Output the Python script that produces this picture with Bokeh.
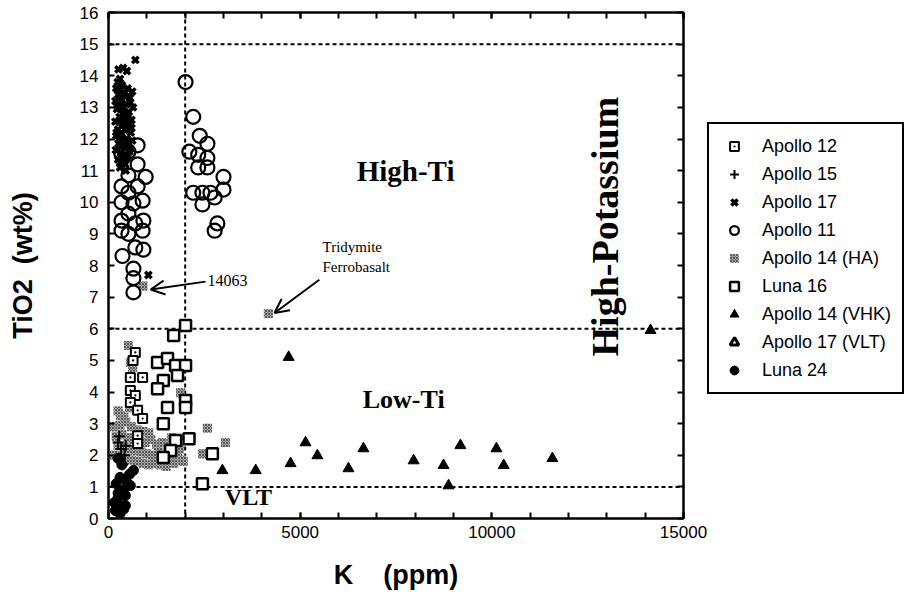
import math
from bokeh.plotting import figure
from bokeh.layouts import row
from bokeh.models import (Range1d, FixedTicker, LinearAxis, Span, Label, Arrow,
                          OpenHead, Legend, LegendItem)
from bokeh.embed import file_html
from bokeh.resources import INLINE

# ---------------- data (K ppm, TiO2 wt%) ----------------
a12_k = [700, 890, 570, 570, 700, 570, 760, 890, 760, 760, 640]
a12_ti = [5.25, 4.46, 4.46, 4.05, 3.89, 3.67, 3.42, 3.16, 2.62, 2.37, 5.0]

a15_k = [250, 330, 300, 420, 360, 280, 450]
a15_ti = [2.4, 2.2, 1.9, 2.0, 1.7, 2.6, 2.3]

a17_k = [700, 260, 380, 480, 300, 200, 350, 500, 620, 250, 420, 560, 180, 330, 470,
         640, 220, 380, 530, 290, 450, 600, 180, 360, 520, 250, 420, 580, 200, 340,
         480, 620, 260, 420, 560, 190, 330, 470, 250, 400, 300, 440, 1040,
         280, 430, 570, 230, 370, 510, 300, 460, 600, 210, 350, 490, 270, 410, 550,
         330, 480, 240, 390, 530, 310, 450]
a17_ti = [14.5, 14.2, 14.25, 14.15, 13.9, 13.6, 13.7, 13.6, 13.5, 13.4, 13.45, 13.3,
          13.2, 13.2, 13.1, 13.0, 12.95, 12.9, 12.85, 12.7, 12.7, 12.6, 12.55, 12.5,
          12.45, 12.3, 12.3, 12.2, 12.1, 12.05, 12.0, 11.95, 11.85, 11.8, 11.7, 11.65,
          11.55, 11.5, 11.35, 11.3, 11.1, 11.2, 7.7,
          13.55, 13.35, 13.15, 13.05, 12.8, 12.75, 12.6, 12.4, 12.35, 12.2, 12.15,
          11.9, 12.0, 11.75, 11.6, 11.45, 11.4, 13.8, 13.0, 12.55, 11.25, 11.0]

a11_k = [2010, 2210, 2380, 2580, 2110, 2340, 2580, 2340, 2580, 3000, 3000, 2210, 2450,
         2660, 2770, 2450, 2840, 2770,
         760, 520, 340, 760, 970, 520, 340, 760, 520, 890, 340, 650, 520, 340, 910, 700,
         340, 890, 520, 910, 365, 700, 650, 650, 650]
a11_ti = [13.8, 12.7, 12.1, 11.85, 11.6, 11.5, 11.4, 11.1, 11.1, 10.8, 10.4, 10.3, 10.3,
          10.3, 10.15, 9.93, 9.33, 9.1,
          11.8, 11.6, 11.5, 11.2, 10.8, 10.85, 10.5, 10.5, 10.3, 10.05, 10.0, 9.96, 9.64,
          9.42, 9.42, 9.33, 9.1, 9.1, 9.0, 8.5, 8.3, 8.57, 7.9, 7.6, 7.15]

a14ha_k = [4170, 900, 520, 570, 630, 1880, 310, 2580, 3050, 2450, 1800,
           150, 300, 450, 600, 750, 900, 1050, 200, 350, 500, 650, 800, 950, 1100, 1250,
           250, 400, 550, 700, 850, 1000, 1150, 1300, 1450, 1600, 1750, 1900, 300, 450,
           600, 750, 900, 1050, 1200, 1350, 1500, 1700, 1950, 150, 1400, 1550, 1650, 1850,
           400, 250, 550]
a14ha_ti = [6.48, 7.35, 5.47, 4.93, 4.78, 3.98, 3.26, 2.85, 2.4, 2.05, 1.93,
            2.9, 2.95, 3.05, 2.9, 2.8, 2.75, 2.7, 2.6, 2.65, 2.55, 2.5, 2.45, 2.4, 2.5, 2.35,
            2.3, 2.25, 2.2, 2.15, 2.1, 2.05, 2.0, 2.1, 2.0, 1.9, 2.1, 1.85, 1.95, 1.9,
            1.85, 1.8, 1.75, 1.7, 1.75, 1.7, 1.65, 1.75, 1.8, 2.0, 2.4, 2.3, 2.55, 2.2,
            3.2, 3.4, 3.5]

l16_k = [2010, 1700, 1280, 1540, 1750, 2010, 1800, 1430, 1280, 2010, 1540, 2010, 1430,
         1750, 2100, 1620, 1430, 2710, 2450]
l16_ti = [6.1, 5.79, 4.93, 5.06, 4.84, 4.84, 4.52, 4.36, 4.1, 3.73, 3.51, 3.51, 3.0,
          2.47, 2.52, 2.15, 1.93, 2.05, 1.1]

a14vhk_k = [4700, 2970, 3840, 4750, 5140, 5450, 6260, 6650, 7960, 8740, 9180, 10120,
            10310, 11580, 14140, 8870]
a14vhk_ti = [5.1, 1.52, 1.52, 1.74, 2.4, 1.99, 1.58, 2.21, 1.83, 1.68, 2.31, 2.21,
             1.68, 1.9, 5.95, 1.04]

a17vlt_k = [250, 350, 300, 200]
a17vlt_ti = [0.5, 0.35, 0.7, 0.6]

l24_k = [650, 570, 440, 440, 300, 200, 350, 250, 150, 400, 300, 180, 450, 550, 250, 380]
l24_ti = [1.52, 1.04, 0.73, 0.41, 1.3, 1.1, 1.7, 0.8, 0.5, 0.3, 0.15, 0.25, 1.2, 1.4,
          1.9, 0.9]

series_names = ["Apollo 12", "Apollo 15", "Apollo 17", "Apollo 11", "Apollo 14 (HA)",
                "Luna 16", "Apollo 14 (VHK)", "Apollo 17 (VLT)", "Luna 24"]

# boundary lines
k_boundary = [2000]
ti_boundaries = [15, 6, 1]

x_ticks = [0, 5000, 10000, 15000]
x_minor = list(range(0, 15001, 1000))
y_ticks = list(range(0, 17))

SANS = "Liberation Sans"
SERIF = "Liberation Serif"

STYLES = {
    "Apollo 14 (HA)": dict(marker="square", size=9, fill_color="#b0b0b0", line_color=None,
                           hatch_pattern="diagonal_cross", hatch_color="#555555",
                           hatch_scale=3, hatch_weight=1),
    "Apollo 12": dict(marker="square_dot", size=9, fill_color="white", line_color="black",
                      line_width=2),
    "Luna 16": dict(marker="square", size=11, fill_color="white", line_color="black",
                    line_width=2.5),
    "Apollo 11": dict(marker="circle", size=14, fill_color=None, line_color="black",
                      line_width=2.2),
    "Apollo 17": dict(marker="x", size=9, line_color="black", line_width=3.5),
    "Apollo 15": dict(marker="cross", size=11, line_color="black", line_width=2),
    "Apollo 14 (VHK)": dict(marker="triangle", size=11, fill_color="black",
                            line_color="black"),
    "Apollo 17 (VLT)": dict(marker="triangle", size=10, fill_color="white",
                            line_color="black", line_width=3),
    "Luna 24": dict(marker="circle", size=10, fill_color="black", line_color="black"),
}
DATA = {
    "Apollo 14 (HA)": (a14ha_k, a14ha_ti),
    "Apollo 12": (a12_k, a12_ti),
    "Luna 16": (l16_k, l16_ti),
    "Apollo 11": (a11_k, a11_ti),
    "Apollo 17": (a17_k, a17_ti),
    "Apollo 15": (a15_k, a15_ti),
    "Apollo 14 (VHK)": (a14vhk_k, a14vhk_ti),
    "Apollo 17 (VLT)": (a17vlt_k, a17vlt_ti),
    "Luna 24": (l24_k, l24_ti),
}

p = figure(frame_width=575, frame_height=506,
           x_range=Range1d(0, 15000), y_range=Range1d(0, 16),
           output_backend="svg", toolbar_location=None,
           min_border_left=108, min_border_top=12, min_border_right=24,
           min_border_bottom=0, background_fill_color="white",
           border_fill_color="white")
p.xgrid.visible = False
p.ygrid.visible = False
p.outline_line_color = "black"
p.outline_line_width = 2

for ax in p.xaxis:
    ax.ticker = FixedTicker(ticks=x_ticks, minor_ticks=x_minor)
for ax in p.yaxis:
    ax.ticker = FixedTicker(ticks=y_ticks, minor_ticks=[])

def style_axis(ax):
    ax.axis_line_width = 2
    ax.major_tick_in = 6
    ax.major_tick_out = 0
    ax.minor_tick_in = 6
    ax.minor_tick_out = 0
    ax.major_tick_line_width = 2
    ax.minor_tick_line_width = 2
    ax.major_label_text_font = SANS
    ax.major_label_text_font_size = "17px"
    ax.major_label_text_color = "black"
    ax.axis_label_text_font = SANS
    ax.axis_label_text_font_style = "bold"
    ax.axis_label_text_font_size = "27px"
    ax.axis_label_text_color = "black"

p.xaxis.axis_label = "K \u00a0\u00a0\u00a0(ppm)"
p.yaxis.axis_label = "TiO2 \u00a0(wt%)"
style_axis(p.xaxis[0])
style_axis(p.yaxis[0])
p.xaxis.major_label_standoff = 7
p.yaxis.major_label_standoff = 10
p.xaxis.axis_label_standoff = 19
p.yaxis.axis_label_standoff = 39

top_ax = LinearAxis(ticker=FixedTicker(ticks=x_ticks, minor_ticks=x_minor))
right_ax = LinearAxis(ticker=FixedTicker(ticks=y_ticks, minor_ticks=[]))
top_ax.major_label_overrides = {t: "" for t in x_ticks}
right_ax.major_label_overrides = {t: "" for t in y_ticks}
for ax in (top_ax, right_ax):
    style_axis(ax)
    ax.major_label_standoff = 0
p.add_layout(top_ax, "above")
p.add_layout(right_ax, "right")

for k in k_boundary:
    p.add_layout(Span(location=k, dimension="height", line_color="black",
                      line_width=2, line_dash="4 3", level="underlay"))
for t in ti_boundaries:
    p.add_layout(Span(location=t, dimension="width", line_color="black",
                      line_width=2, line_dash="4 3", level="underlay"))

for name in DATA:
    xs, ys = DATA[name]
    p.scatter(xs, ys, **STYLES[name])

def lab(x, y, text, size, font=SERIF, bold=True, angle=0.0, align="center"):
    p.add_layout(Label(x=x, y=y, text=text, text_font=font,
                       text_font_style="bold" if bold else "normal",
                       text_font_size=size, text_color="black", angle=angle,
                       text_align=align, text_baseline="middle"))

lab(7750, 11.0, "High-Ti", "29px")
lab(7700, 3.75, "Low-Ti", "26px")
lab(3650, 0.68, "VLT", "24px")
lab(12940, 9.23, "High-Potassium", "38px", angle=math.pi / 2)
lab(2583, 7.53, "14063", "16px", bold=False, align="left")
lab(5583, 8.57, "Tridymite", "15px", bold=False, align="left")
lab(5583, 7.94, "Ferrobasalt", "15px", bold=False, align="left")

p.add_layout(Arrow(end=OpenHead(size=14, line_width=2), x_start=2530, y_start=7.49,
                   x_end=1100, y_end=7.24, line_width=2))
p.add_layout(Arrow(end=OpenHead(size=14, line_width=2), x_start=5500, y_start=7.55,
                   x_end=4330, y_end=6.5, line_width=2))

# ---- legend panel (separate figure to the right of the plot) ----
# its ranges exclude all data, so its renderers only feed the legend
lf = figure(width=200, height=560, x_range=Range1d(-2, -1), y_range=Range1d(-2, -1),
            output_backend="svg", toolbar_location=None, x_axis_type=None,
            y_axis_type=None, min_border=0, outline_line_color=None,
            background_fill_color="white", border_fill_color="white")
lf.xgrid.visible = False
lf.ygrid.visible = False
items = []
for name in series_names:
    xs, ys = DATA[name]
    r = lf.scatter(xs, ys, **STYLES[name])
    items.append(LegendItem(label=name, renderers=[r], index=0))

legend = Legend(items=items, location=(0, 92))
legend.label_text_font = SANS
legend.label_text_font_size = "18px"
legend.label_text_color = "black"
legend.border_line_color = "black"
legend.border_line_alpha = 1.0
legend.border_line_width = 2
legend.background_fill_color = "white"
legend.background_fill_alpha = 1.0
legend.glyph_width = 28
legend.glyph_height = 22
legend.spacing = 6
legend.padding = 11
legend.label_standoff = 14
legend.margin = 0
lf.add_layout(legend, "center")

layout = row(p, lf, spacing=0)
open("out.html", "w").write(file_html(layout, INLINE))
